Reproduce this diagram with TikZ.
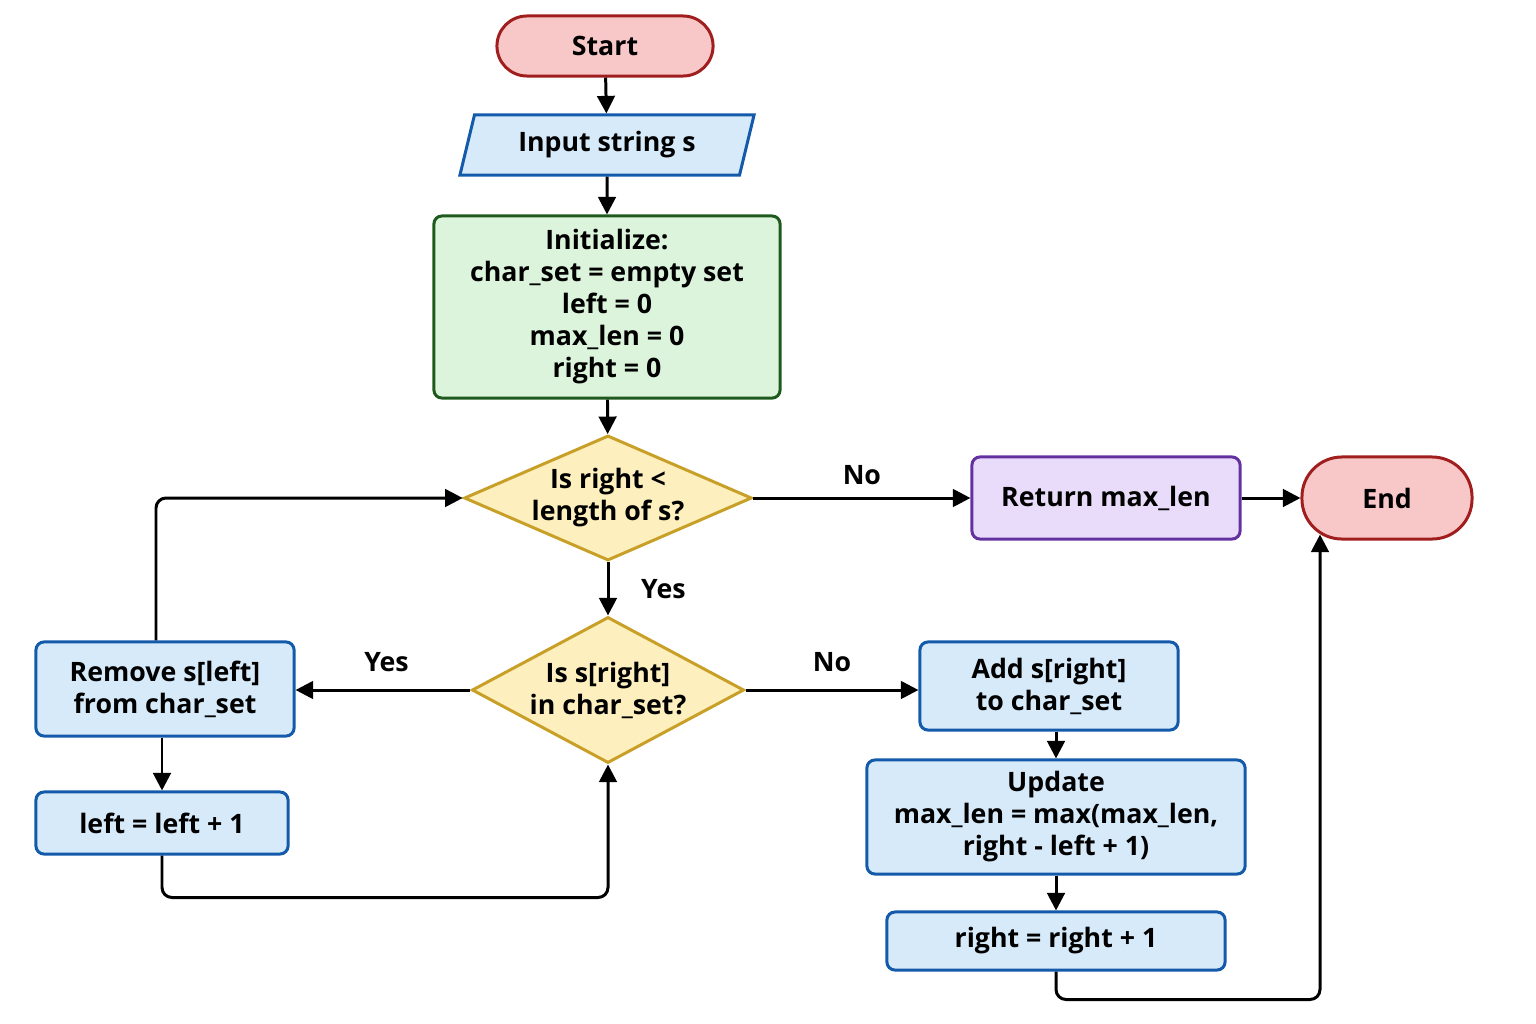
\documentclass[tikz,border=0pt]{standalone}
\usepackage{fontspec}
\setmainfont{Open Sans}
\usepackage{xcolor}
\usetikzlibrary{shapes.geometric, arrows.meta, positioning, calc}
\definecolor{termfill}{RGB}{248,200,200}
\definecolor{termline}{RGB}{160,30,30}
\definecolor{procfill}{RGB}{214,234,250}
\definecolor{procline}{RGB}{20,90,170}
\definecolor{initfill}{RGB}{220,244,220}
\definecolor{initline}{RGB}{30,90,30}
\definecolor{decfill}{RGB}{253,240,190}
\definecolor{decline}{RGB}{200,160,40}
\definecolor{retfill}{RGB}{232,220,250}
\definecolor{retline}{RGB}{100,50,160}
\begin{document}
\begin{tikzpicture}[x=0.01cm, y=-0.01cm,
    font=\fontsize{7.6}{9.1}\selectfont\bfseries,
    base/.style={draw, line width=0.85pt, align=center, inner sep=0pt},
    term/.style={base, rectangle, rounded corners=0.3cm, fill=termfill, draw=termline},
    proc/.style={base, rectangle, rounded corners=0.08cm, fill=procfill, draw=procline},
    dec/.style={base, diamond, aspect=2.3, fill=decfill, draw=decline},
    arrow/.style={-{Triangle[length=5pt,width=5pt]}, line width=0.85pt},
    lbl/.style={font=\fontsize{7.6}{9}\selectfont\bfseries}
]
    \useasboundingbox (0,0) rectangle (1536,1024);
    \node[term, minimum width=2.16cm, minimum height=0.6cm] (start) at (605,46) {Start};
    \node[base, trapezium, trapezium left angle=70, trapezium right angle=110, fill=procfill, draw=procline,
          minimum width=2.95cm, minimum height=0.6cm, trapezium stretches=true] (input) at (607,145) {Input string s};
    \node[proc, fill=initfill, draw=initline, minimum width=3.46cm, minimum height=1.82cm] (init) at (607,307)
        {Initialize:\\char\_set = empty set\\left = 0\\max\_len = 0\\right = 0};
    \node[dec, minimum width=2.82cm, minimum height=1.22cm] (cond1) at (608,498) {Is right <\\length of s?};
    \node[proc, fill=retfill, draw=retline, minimum width=2.68cm, minimum height=0.82cm] (ret) at (1106,498) {Return max\_len};
    \node[term, rounded corners=0.4cm, minimum width=1.7cm, minimum height=0.82cm] (end) at (1387,498) {End};
    \node[dec, minimum width=2.72cm, minimum height=1.46cm, aspect=1.9] (cond2) at (608,690) {Is s[right]\\in char\_set?};
    \node[proc, minimum width=2.58cm, minimum height=0.94cm] (remove) at (165,689) {Remove s[left]\\from char\_set};
    \node[proc, minimum width=2.52cm, minimum height=0.62cm] (incleft) at (162,823) {left = left + 1};
    \node[proc, minimum width=2.58cm, minimum height=0.88cm] (add) at (1049,686) {Add s[right]\\to char\_set};
    \node[proc, minimum width=3.78cm, minimum height=1.14cm] (update) at (1056,817) {Update\\max\_len = max(max\_len,\\right - left + 1)};
    \node[proc, minimum width=3.38cm, minimum height=0.58cm] (incright) at (1056,941) {right = right + 1};

    \draw[arrow] (start) -- (input);
    \draw[arrow] (input) -- (init);
    \draw[arrow] (init) -- (cond1);
    \draw[arrow] (cond1) -- node[lbl, above] {No} (ret);
    \draw[arrow] (ret) -- (end);
    \draw[arrow] (cond1) -- node[lbl, right=0.2cm] {Yes} (cond2);
    \draw[arrow] (cond2.west) -- node[lbl, above=0.05cm, pos=0.48] {Yes} (cond2.west -| remove.east);
    \draw[arrow] (cond2.east) -- node[lbl, above=0.05cm] {No} (cond2.east -| add.west);
    \draw[arrow] (incleft.north |- remove.south) -- (incleft);
    \draw[arrow, rounded corners=0.1cm] (incleft.south) -- ++(0,42) -| (cond2.south);
    \draw[arrow, rounded corners=0.1cm] (remove.north -| 156,0) |- (cond1.west);
    \draw[arrow] (add.south -| update.north) -- (update);
    \draw[arrow] (update) -- (incright);
    \coordinate (endin) at (1320,0);
    \draw[arrow, rounded corners=0.1cm] (incright.south) -- ++(0,28) -| ($(endin |- end.south)+(0,-6)$);
\end{tikzpicture}
\end{document}
